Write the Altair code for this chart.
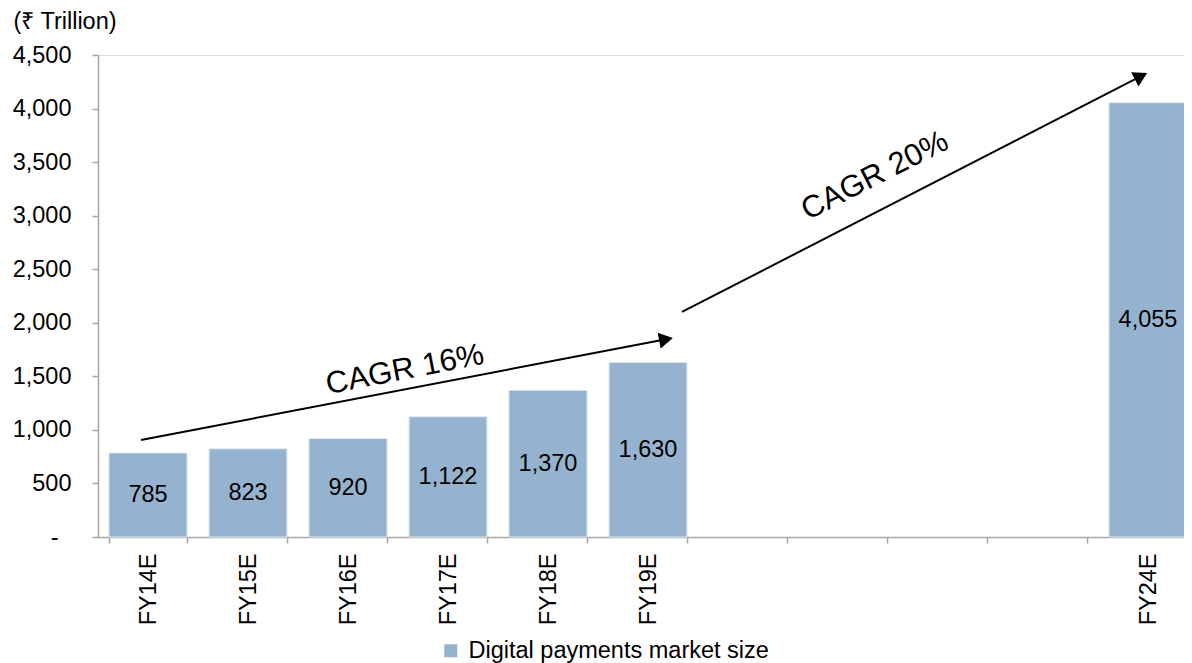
import altair as alt
import pandas as pd

# ---- data ----
categories = ["FY14E", "FY15E", "FY16E", "FY17E", "FY18E", "FY19E",
              "FY20E", "FY21E", "FY22E", "FY23E", "FY24E"]
hidden_labels = ["FY20E", "FY21E", "FY22E", "FY23E"]
bar_categories = ["FY14E", "FY15E", "FY16E", "FY17E", "FY18E", "FY19E", "FY24E"]
bar_values = [785, 823, 920, 1122, 1370, 1630, 4055]
series_name = "Digital payments market size"

# annotation arrows (x in category-slot units, y in data units)
arrow_x0 = [0.43, 5.84]
arrow_y0 = [906, 2101]
arrow_x1 = [5.68, 10.43]
arrow_y1 = [1846, 4302]
arrow_angle = [349.2, 332.8]

cagr_text = ["CAGR 16%", "CAGR 20%"]
cagr_x = [3.07, 7.77]
cagr_y = [1559, 3370]
cagr_angle = [349, 333]

FONT = "Liberation Sans"
FS = 23.5
BAR_COLOR = "#95b3cf"
AXIS_GRAY = "#a6a6a6"

bars_df = pd.DataFrame({"cat": bar_categories, "value": bar_values,
                        "series": [series_name] * len(bar_values)})
arrows_df = pd.DataFrame({"x0": arrow_x0, "y0": arrow_y0, "x1": arrow_x1,
                          "y1": arrow_y1, "angle": arrow_angle})
cagr_df = pd.DataFrame({"text": cagr_text, "x": cagr_x, "y": cagr_y, "angle": cagr_angle})

hidden_js = "[" + ",".join("'" + h + "'" for h in hidden_labels) + "]"

band_scale = alt.Scale(domain=categories, range=[0, 1100], paddingInner=0.22, paddingOuter=0.11)

x_band = alt.X(
    "cat:N",
    sort=categories,
    scale=band_scale,
    axis=alt.Axis(
        title=None,
        labelAngle=-90,
        labelFont=FONT,
        labelFontSize=FS,
        labelColor="black",
        labelPadding=10,
        tickSize=6,
        tickBand="extent",
        tickColor=AXIS_GRAY,
        tickWidth=1.5,
        domainColor=AXIS_GRAY,
        domainWidth=1.5,
        labelExpr="indexof(" + hidden_js + ", datum.label) >= 0 ? '' : datum.label",
    ),
)

y_scale = alt.Scale(domain=[0, 4500], nice=False)
y_axis = alt.Axis(
    title="(₹ Trillion)",
    titleAngle=0,
    titleAlign="left",
    titleBaseline="middle",
    titleX=-85,
    titleY=-34,
    titleFont=FONT,
    titleFontSize=FS,
    titleFontWeight="normal",
    titleColor="black",
    values=list(range(0, 4501, 500)),
    labelExpr="datum.value == 0 ? '-' : format(datum.value, ',')",
    labelFont=FONT,
    labelFontSize=FS,
    labelColor="black",
    labelPadding={"condition": {"test": "datum.value == 0", "value": 34}, "value": 21},
    tickSize=6,
    tickColor=AXIS_GRAY,
    tickWidth=1.5,
    domainColor=AXIS_GRAY,
    domainWidth=1.5,
    grid=False,
)

bars = alt.Chart(bars_df).mark_bar(stroke="#dfe8f1", strokeWidth=1).encode(
    x=x_band,
    y=alt.Y("value:Q", scale=y_scale, axis=y_axis),
    color=alt.Color(
        "series:N",
        scale=alt.Scale(domain=[series_name], range=[BAR_COLOR]),
        legend=alt.Legend(
            title=None,
            orient="none",
            legendX=341,
            legendY=584,
            symbolType="square",
            symbolSize=169,
            symbolStrokeWidth=0,
            labelFont=FONT,
            labelFontSize=FS,
            labelColor="black",
            labelOffset=6,
            labelLimit=0,
            padding=0,
        ),
    ),
)

bar_text = alt.Chart(bars_df).transform_calculate(mid="datum.value / 2").mark_text(
    font=FONT, fontSize=FS, color="black", align="center", baseline="middle"
).encode(
    x=alt.X("cat:N", sort=categories, scale=band_scale, axis=None),
    y=alt.Y("mid:Q", scale=y_scale),
    text=alt.Text("value:Q", format=","),
)

x_ann_scale = alt.Scale(domain=[0, 11], range=[0, 1100], nice=False, zero=False)

arrow_lines = alt.Chart(arrows_df).mark_rule(color="black", strokeWidth=2).encode(
    x=alt.X("x0:Q", scale=x_ann_scale, axis=None),
    x2="x1:Q",
    y=alt.Y("y0:Q", scale=y_scale),
    y2="y1:Q",
)

arrow_heads = alt.Chart(arrows_df).mark_point(
    shape="triangle-right", filled=True, color="black", size=256, opacity=1
).encode(
    x=alt.X("x1:Q", scale=x_ann_scale, axis=None),
    y=alt.Y("y1:Q", scale=y_scale),
    angle=alt.Angle("angle:Q", scale=None),
)

cagr_labels = alt.Chart(cagr_df).mark_text(
    font=FONT, fontSize=31, color="black", align="center", baseline="middle"
).encode(
    x=alt.X("x:Q", scale=x_ann_scale, axis=None),
    y=alt.Y("y:Q", scale=y_scale),
    text="text:N",
    angle=alt.Angle("angle:Q", scale=None),
)

chart = alt.layer(bars, bar_text, arrow_lines, arrow_heads, cagr_labels).resolve_scale(
    x="independent"
).properties(
    width=1086,
    height=482,
    autosize=alt.AutoSizeParams(type="none"),
    padding={"left": 90, "top": 47, "right": 0, "bottom": 126},
).configure_view(stroke=None).configure(background="white")

chart.save("out.html", embed_options={"renderer": "svg", "actions": False})
